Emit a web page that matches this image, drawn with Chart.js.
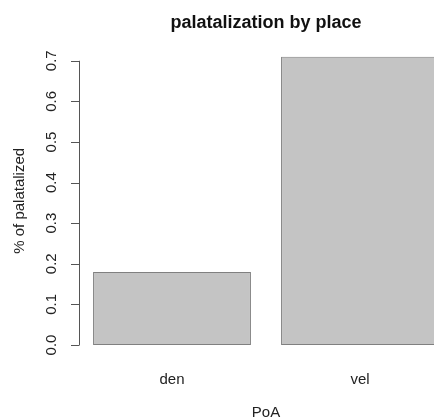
<!DOCTYPE html>
<html>
<head>
<meta charset="utf-8">
<script src="https://cdn.jsdelivr.net/npm/chart.js@4"></script>
<style>
  html, body { margin: 0; padding: 0; background: #fff; overflow: hidden; width: 434px; height: 419px; }
  canvas { display: block; }
</style>
</head>
<body>
<canvas id="c" width="456" height="419"></canvas>
<script>
const categories = ['den', 'vel'];
const palatalized = [0.18, 0.71];
const yTickValues = [0, 0.1, 0.2, 0.3, 0.4, 0.5, 0.6, 0.7];
const yTickLabels = ['0.0', '0.1', '0.2', '0.3', '0.4', '0.5', '0.6', '0.7'];
const chartTitle = 'palatalization by place';
const xTitle = 'PoA';
const yTitle = '% of palatalized';

const FONT = '"Liberation Sans", Arial, Helvetica, sans-serif';

const rAxes = {
  id: 'rAxes',
  afterDraw(chart) {
    const ctx = chart.ctx;
    const xs = chart.scales.x;
    const ys = chart.scales.y;
    const area = chart.chartArea;
    ctx.save();
    // y axis line and ticks
    const axX = Math.round(area.left + 1) + 0.5;
    ctx.strokeStyle = '#555';
    ctx.lineWidth = 1;
    ctx.beginPath();
    const yTop = ys.getPixelForValue(yTickValues[yTickValues.length - 1]);
    const yBot = ys.getPixelForValue(yTickValues[0]);
    ctx.moveTo(axX, yTop);
    ctx.lineTo(axX, yBot);
    yTickValues.forEach(v => {
      const py = Math.round(ys.getPixelForValue(v)) + 0.5;
      ctx.moveTo(axX, py);
      ctx.lineTo(axX - 8.5, py);
    });
    ctx.stroke();

    // y tick labels (rotated)
    ctx.fillStyle = '#222';
    ctx.font = '15px ' + FONT;
    ctx.textAlign = 'center';
    ctx.textBaseline = 'alphabetic';
    yTickValues.forEach((v, i) => {
      const py = ys.getPixelForValue(v);
      ctx.save();
      ctx.translate(56, py);
      ctx.rotate(-Math.PI / 2);
      ctx.fillText(yTickLabels[i], 0, 0);
      ctx.restore();
    });

    // y title
    ctx.save();
    ctx.translate(24, (area.top + area.bottom) / 2);
    ctx.rotate(-Math.PI / 2);
    ctx.fillText(yTitle, 0, 0);
    ctx.restore();

    // category labels
    categories.forEach((c, i) => {
      const px = xs.getPixelForValue(i);
      ctx.fillText(c, px, 384);
    });

    // x title
    const midX = (area.left + area.right) / 2;
    ctx.fillText(xTitle, midX, 416.5);

    // main title
    ctx.fillStyle = '#111';
    ctx.font = 'bold 18px ' + FONT;
    ctx.fillText(chartTitle, midX, 28);
    ctx.restore();
  }
};

new Chart(document.getElementById('c'), {
  type: 'bar',
  data: {
    labels: categories,
    datasets: [{
      data: palatalized,
      backgroundColor: '#c4c4c4',
      borderColor: '#808080',
      borderWidth: 1,
      borderSkipped: false,
      categoryPercentage: 1,
      barPercentage: 0.84
    }]
  },
  options: {
    responsive: false,
    animation: false,
    events: [],
    layout: { padding: { left: 78, right: 2, top: 45.2, bottom: 62.5 } },
    plugins: { legend: { display: false }, tooltip: { enabled: false }, title: { display: false } },
    scales: {
      x: { type: 'category', display: false, offset: true },
      y: { type: 'linear', display: false, min: -0.0284, max: 0.7384 }
    }
  },
  plugins: [rAxes]
});
</script>
</body>
</html>
